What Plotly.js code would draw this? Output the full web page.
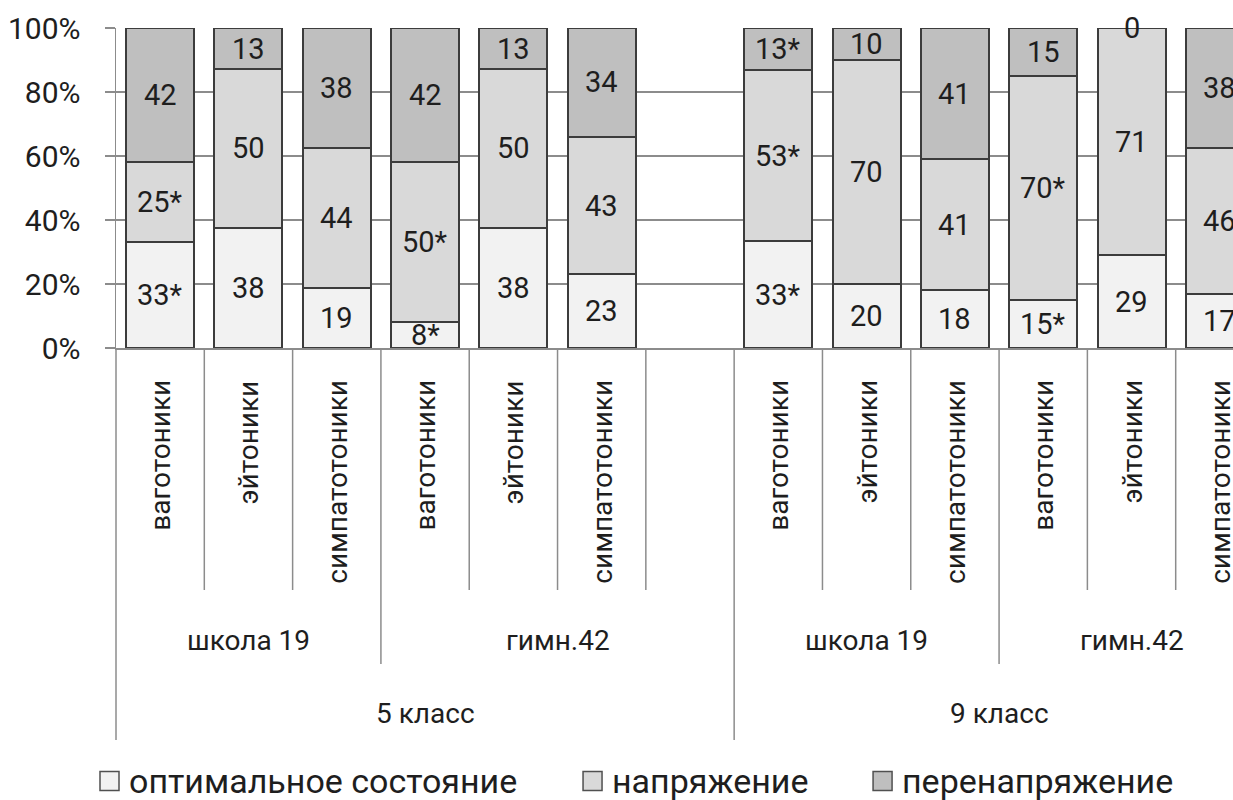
<!DOCTYPE html>
<html>
<head>
<meta charset="utf-8">
<script src="https://cdn.plot.ly/plotly-3.0.1.min.js"></script>
<style>
  html, body { margin: 0; padding: 0; overflow: hidden; background: #fff; }
  #chart { width: 1300px; height: 800px; }
</style>
</head>
<body>
<div id="chart"></div>
<script>
// Grouping of the bars: grade -> school -> vegetative type
const grades = ['5 класс', '9 класс'];
const schools = ['школа 19', 'гимн.42'];
const types = ['ваготоники', 'эйтоники', 'симпатотоники'];

// Share of pupils (%) per bar, in order grade -> school -> type
const optimal    = [33, 38, 19,  8, 38, 23,  33, 20, 18, 15, 29, 17];
const strain     = [25, 50, 44, 50, 50, 43,  53, 70, 41, 70, 71, 46];
const overstrain = [42, 13, 38, 42, 13, 34,  13, 10, 41, 15,  0, 38];

// Significant differences (marked with *)
const optimalSig    = [1, 0, 0, 1, 0, 0,  1, 0, 0, 1, 0, 0];
const strainSig     = [1, 0, 0, 1, 0, 0,  1, 0, 0, 1, 0, 0];
const overstrainSig = [0, 0, 0, 0, 0, 0,  1, 0, 0, 0, 0, 0];

const seriesNames = ['оптимальное состояние', 'напряжение', 'перенапряжение'];

// ---- layout of category slots (one empty slot closes the 5th-grade block) ----
const perSchool = types.length;
const perGrade = schools.length * perSchool;
const gradeSlots = [perGrade + 1, perGrade];          // slots occupied by each grade
const nSlots = gradeSlots.reduce((a, b) => a + b, 0);
const gradeStart = [0, gradeSlots[0]];
const schoolSlots = [[perSchool, perSchool + 1], [perSchool, perSchool]];

const xPos = [];
grades.forEach((g, gi) => {
  for (let k = 0; k < perGrade; k++) xPos.push(gradeStart[gi] + k);
});

const FONT = 'Roboto, "Liberation Sans", sans-serif';
const TXT = '#1e1e1e';
const GRID = '#8c8c8c';
const FS = 28;
const colors = ['#f2f2f2', '#d9d9d9', '#bfbfbf'];
const EDGE = '#3c3c3c';
const seriesVals = [optimal, strain, overstrain];
const seriesSig = [optimalSig, strainSig, overstrainSig];

const traces = seriesVals.map((vals, s) => ({
  type: 'bar',
  name: seriesNames[s],
  x: xPos,
  y: vals,
  marker: { color: colors[s], line: { color: EDGE, width: 2 } },
  hoverinfo: 'skip'
}));

// plot geometry in pixels
const W = 1300, H = 800;
const L = 116, T = 28, PH = 320, SLOT = 88.3;
const PW = nSlots * SLOT;
const yPix = p => (T + PH - p) / PH;       // paper y of a page pixel row
const xPix = p => (p - L) / PW;            // paper x of a page pixel column
const slotEdge = k => k / nSlots;          // paper x of a slot boundary

// value labels centred in each stacked segment (bars are normalised to 100%)
const annotations = [];
xPos.forEach((x, i) => {
  const total = seriesVals.reduce((a, v) => a + v[i], 0);
  let cum = 0;
  seriesVals.forEach((vals, s) => {
    const v = vals[i];
    const mid = (cum + v / 2) / total * 100;
    cum += v;
    annotations.push({
      xref: 'x', yref: 'y', x: x, y: mid,
      text: v + (seriesSig[s][i] ? '*' : ''),
      showarrow: false,
      font: { family: FONT, size: 29, color: TXT }
    });
  });
});

// hierarchical category axis drawn below the plot
const shapes = [];
const vline = (k, yEnd) => shapes.push({
  type: 'line', xref: 'paper', yref: 'paper',
  x0: slotEdge(k), x1: slotEdge(k), y0: 0, y1: yEnd,
  line: { color: GRID, width: 1.5 }
});

const yType = yPix(590), ySchool = yPix(664), yGrade = yPix(740);
grades.forEach((g, gi) => {
  const g0 = gradeStart[gi];
  vline(g0, yGrade);
  annotations.push({
    xref: 'x', yref: 'paper', x: g0 + gradeSlots[gi] / 2 - 0.5, y: yPix(713),
    text: g, showarrow: false, yanchor: 'middle',
    font: { family: FONT, size: FS, color: TXT }
  });
  let s0 = g0;
  schools.forEach((sc, si) => {
    const n = schoolSlots[gi][si];
    if (si > 0) vline(s0, ySchool);
    annotations.push({
      xref: 'x', yref: 'paper', x: s0 + n / 2 - 0.5, y: yPix(640),
      text: sc, showarrow: false, yanchor: 'middle',
      font: { family: FONT, size: FS, color: TXT }
    });
    for (let k = 1; k < n; k++) vline(s0 + k, yType);
    types.forEach((t, ti) => {
      annotations.push({
        xref: 'x', yref: 'paper', x: s0 + ti, y: yPix(378),
        text: t, textangle: -90, showarrow: false,
        xanchor: 'center', yanchor: 'top',
        font: { family: FONT, size: FS, color: TXT }
      });
    });
    s0 += n;
  });
});
vline(nSlots, yGrade);

// legend row: swatch + label per series
const legendSwatchX = [100, 583, 873];
const SW = 19, LEG_Y = 781;
seriesNames.forEach((name, s) => {
  const x0 = legendSwatchX[s];
  shapes.push({
    type: 'rect', xref: 'paper', yref: 'paper',
    x0: xPix(x0), x1: xPix(x0 + SW), y0: yPix(LEG_Y - SW / 2), y1: yPix(LEG_Y + SW / 2),
    fillcolor: colors[s], line: { color: '#505050', width: 1.5 }
  });
  annotations.push({
    xref: 'paper', yref: 'paper', x: xPix(x0 + SW + 8), y: yPix(LEG_Y),
    xanchor: 'left', yanchor: 'middle', showarrow: false,
    text: name, font: { family: FONT, size: 34, color: TXT }
  });
});

const layout = {
  width: W, height: H,
  margin: { l: L, r: W - L - PW, t: T, b: H - T - PH },
  paper_bgcolor: '#ffffff', plot_bgcolor: '#ffffff',
  barmode: 'stack', barnorm: 'percent', bargap: 0.23,
  font: { family: FONT, size: FS, color: TXT },
  showlegend: false,
  xaxis: {
    range: [-0.5, nSlots - 0.5], showgrid: false, showticklabels: false,
    ticks: '', zeroline: false, showline: true, linecolor: GRID, linewidth: 1.5,
    fixedrange: true
  },
  yaxis: {
    range: [0, 100], dtick: 20, ticksuffix: '%',
    showgrid: true, gridcolor: GRID, gridwidth: 1.5, zeroline: false,
    showline: true, linecolor: GRID, linewidth: 1.5,
    ticks: 'outside', ticklen: 10, tickcolor: GRID, tickwidth: 1.5,
    ticklabelstandoff: 18,
    tickfont: { family: FONT, size: 30, color: TXT }, fixedrange: true
  },
  annotations: annotations,
  shapes: shapes
};

Plotly.newPlot('chart', traces, layout, { displayModeBar: false, staticPlot: true });
</script>
</body>
</html>
